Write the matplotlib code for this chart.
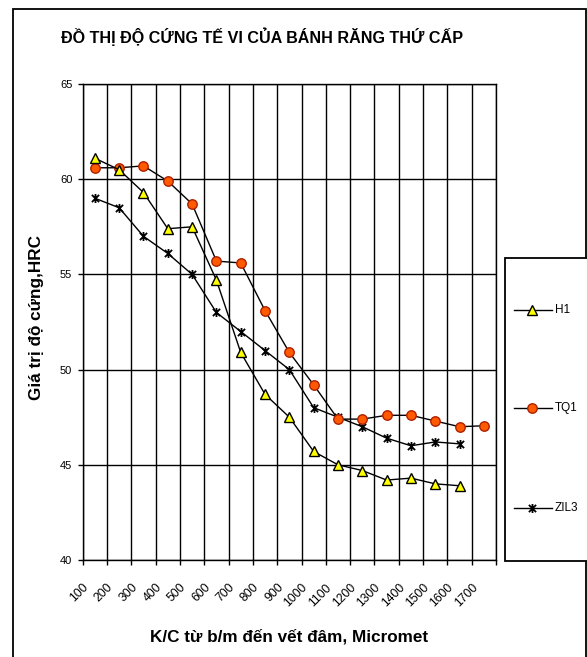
import matplotlib
matplotlib.use('Agg')
import matplotlib.pyplot as plt
from matplotlib.path import Path
from matplotlib.patches import Rectangle
from matplotlib.lines import Line2D
import numpy as np

plt.rcParams['font.family'] = ['Liberation Sans', 'DejaVu Sans']

categories = ['100', '200', '300', '400', '500', '600', '700', '800', '900', '1000',
              '1100', '1200', '1300', '1400', '1500', '1600', '1700']
h1 = [61.1, 60.5, 59.3, 57.4, 57.5, 54.7, 50.9, 48.7, 47.5, 45.7, 45.0, 44.7, 44.2, 44.3, 44.0, 43.9]
tq1 = [60.6, 60.6, 60.7, 59.9, 58.7, 55.7, 55.6, 53.1, 50.9, 49.2, 47.4, 47.4, 47.6, 47.6, 47.3, 47.0, 47.05]
zil3 = [59.0, 58.5, 57.0, 56.1, 55.0, 53.0, 52.0, 51.0, 50.0, 48.0, 47.5, 47.0, 46.4, 46.0, 46.2, 46.1]
series_names = ['H1', 'TQ1', 'ZIL3']
y_ticks = [40, 45, 50, 55, 60, 65]

title = 'ĐỒ THỊ ĐỘ CỨNG TẾ VI CỦA BÁNH RĂNG THỨ CẤP'
xlabel = 'K/C từ b/m đến vết đâm, Micromet'
ylabel = 'Giá trị độ cứng,HRC'

W, H = 587, 657
fig = plt.figure(figsize=(W / 100, H / 100), dpi=100)

def fx(px):
    return px / W

def fy(py):
    return 1 - py / H

# outer chart border
fig.add_artist(Rectangle((fx(13), -0.02), fx(586) - fx(13), fy(9) + 0.02,
                         transform=fig.transFigure, fill=False, lw=1.3,
                         edgecolor='black', zorder=0))

ax = fig.add_axes([fx(82.7), fy(560), fx(496) - fx(82.7), fy(84) - fy(560)])

star = Path([(0, -1), (0, 1), (-0.8, -0.8), (0.8, 0.8), (-0.8, 0.8), (0.8, -0.8)],
            [Path.MOVETO, Path.LINETO, Path.MOVETO, Path.LINETO, Path.MOVETO, Path.LINETO])

styles = {
    'H1': dict(marker='^', markersize=7.2, markerfacecolor='#FFFF00', markeredgecolor='black', markeredgewidth=1.0),
    'TQ1': dict(marker='o', markersize=6.8, markerfacecolor='#FF5A00', markeredgecolor='#B02000', markeredgewidth=1.0),
    'ZIL3': dict(marker=star, markersize=6.5, markerfacecolor='none', markeredgecolor='black', markeredgewidth=1.3),
}

data = {'H1': h1, 'TQ1': tq1, 'ZIL3': zil3}
for name in ['ZIL3', 'TQ1', 'H1']:
    vals = data[name]
    ax.plot(np.arange(len(vals)), vals, color='black', lw=1.0, zorder=3, **styles[name])

ax.set_xlim(-0.5, len(categories) - 0.5)
ax.set_ylim(40, 65)
ax.set_yticks(y_ticks)
ax.set_yticklabels([str(v) for v in y_ticks])
ax.set_xticks(np.arange(-0.5, len(categories), 1))
ax.set_xticklabels(categories + [''], rotation=45, ha='right', va='top',
                   rotation_mode='anchor')
ax.grid(True, color='black', lw=1.0)
ax.set_axisbelow(True)
for s in ax.spines.values():
    s.set_color('black')
    s.set_linewidth(1.0)
ax.tick_params(axis='x', direction='out', length=3.5, width=1.0, pad=12, labelsize=8.8)
ax.tick_params(axis='y', direction='out', length=3.5, width=1.0, pad=4, labelsize=8)

fig.text(fx(262), fy(37), title, ha='center', va='center', fontsize=11.6, fontweight='bold')
fig.text(fx(289), fy(637), xlabel, ha='center', va='center', fontsize=12.3, fontweight='bold')
fig.text(fx(37), fy(318), ylabel, ha='center', va='center', rotation=90, fontsize=12.3, fontweight='bold')

# legend box
fig.add_artist(Rectangle((fx(505), fy(561)), 0.3, fy(258) - fy(561),
                         transform=fig.transFigure, facecolor='white', edgecolor='black',
                         lw=1.3, zorder=5))
leg_y = [310, 408, 508]
for name, ly in zip(series_names, leg_y):
    fig.add_artist(Line2D([fx(514), fx(552)], [fy(ly), fy(ly)], transform=fig.transFigure,
                          color='black', lw=1.0, zorder=6))
    fig.add_artist(Line2D([fx(532)], [fy(ly)], transform=fig.transFigure,
                          color='black', lw=0, zorder=7, **styles[name]))
    fig.text(fx(555), fy(ly), name, ha='left', va='center', fontsize=8.5, zorder=8)

fig.savefig('out.png', dpi=100)
